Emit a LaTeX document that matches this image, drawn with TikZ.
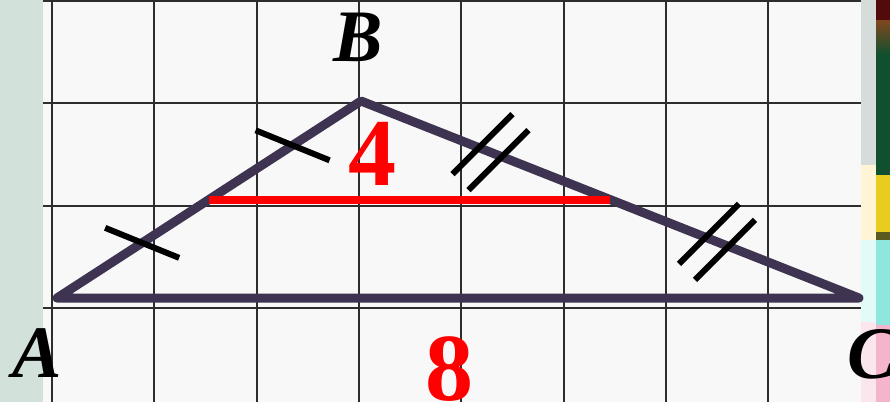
\documentclass[tikz,border=0pt]{standalone}
\usepackage{fontspec}
\setmainfont{Liberation Serif}
\usetikzlibrary{calc}

\definecolor{sidegreen}{RGB}{211,225,219}
\definecolor{paper}{RGB}{248,248,248}
\definecolor{gridgray}{RGB}{45,45,45}
\definecolor{edgepurple}{RGB}{63,51,82}
\definecolor{stripgray}{RGB}{214,220,218}
\definecolor{stripcream}{RGB}{255,244,214}
\definecolor{stripaqua}{RGB}{226,250,248}
\definecolor{strippink}{RGB}{252,230,238}
\definecolor{darkred}{RGB}{82,10,10}
\definecolor{rust}{RGB}{130,70,30}
\definecolor{darkgreen}{RGB}{16,80,46}
\definecolor{sunyellow}{RGB}{232,204,32}
\definecolor{olive}{RGB}{90,90,32}
\definecolor{aqua}{RGB}{142,230,222}
\definecolor{rose}{RGB}{244,180,204}

\begin{document}
\begin{tikzpicture}[
        x=1pt, y=-1pt,
        gridline/.style={draw=gridgray, line width=2pt},
        edge/.style={draw=edgepurple, line width=9pt, line join=round, line cap=round},
        midline/.style={draw=red, line width=8pt},
        tick/.style={draw=black, line width=6pt},
        vertex/.style={font=\fontsize{74}{74}\selectfont\bfseries\itshape, inner sep=0pt},
        length/.style={font=\fontsize{96}{96}\selectfont\bfseries, text=red, inner sep=0pt}
    ]
    \useasboundingbox (0,0) rectangle (890,402);
    % Background
    \fill[sidegreen] (0,0) rectangle (43,402);
    \fill[paper] (43,0) rectangle (861,402);
    \fill[stripgray] (861,0) rectangle (876,165);
    \fill[stripcream] (861,165) rectangle (876,240);
    \fill[stripaqua] (861,240) rectangle (876,322);
    \fill[strippink] (861,322) rectangle (876,402);
    \fill[darkred] (876,0) rectangle (890,20);
    \shade[top color=rust, bottom color=darkgreen] (876,20) rectangle (890,55);
    \fill[darkgreen] (876,55) rectangle (890,175);
    \fill[sunyellow] (876,175) rectangle (890,232);
    \fill[olive] (876,232) rectangle (890,240);
    \fill[aqua] (876,240) rectangle (890,325);
    \fill[rose] (876,325) rectangle (890,402);

    % Grid
    \foreach \i in {0,...,7}
        \draw[gridline] ({52+102.3*\i},0) -- ({52+102.3*\i},402);
    \foreach \j in {0,...,3}
        \draw[gridline] (43,{1+102.3*\j}) -- (861,{1+102.3*\j});

    % Points
    \coordinate (A) at (57,298);
    \coordinate (B) at (361,101);
    \coordinate (C) at (859,298);
    \coordinate (M) at ($(A)!0.5!(B)$);
    \coordinate (N) at ($(B)!0.5!(C)$);

    % Triangle and midline
    \draw[edge] (A) -- (B) -- (C) -- cycle;
    \draw[midline] (M) -- (N);

    % Ticks
    \foreach \t in {0.28,0.775}
        \draw[tick] ($(A)!\t!(B)+(-37,-15)$) -- ++(74,30);
    \foreach \t in {0.26,0.715} {
        \draw[tick] ($(B)!\t!(C)+(-38,22)$) -- ++(60,-60);
        \draw[tick] ($(B)!\t!(C)+(-22,38)$) -- ++(60,-60);
    }

    % Labels
    \node[vertex] (lblA) at (37,353) {A};
    \node[vertex] (lblB) at (358,37) {B};
    \node[vertex] (lblC) at (872,354) {C};
    \node[length] (lblmid) at (372,154) {4};
    \node[length] (lblbase) at (449,369) {8};
\end{tikzpicture}
\end{document}
